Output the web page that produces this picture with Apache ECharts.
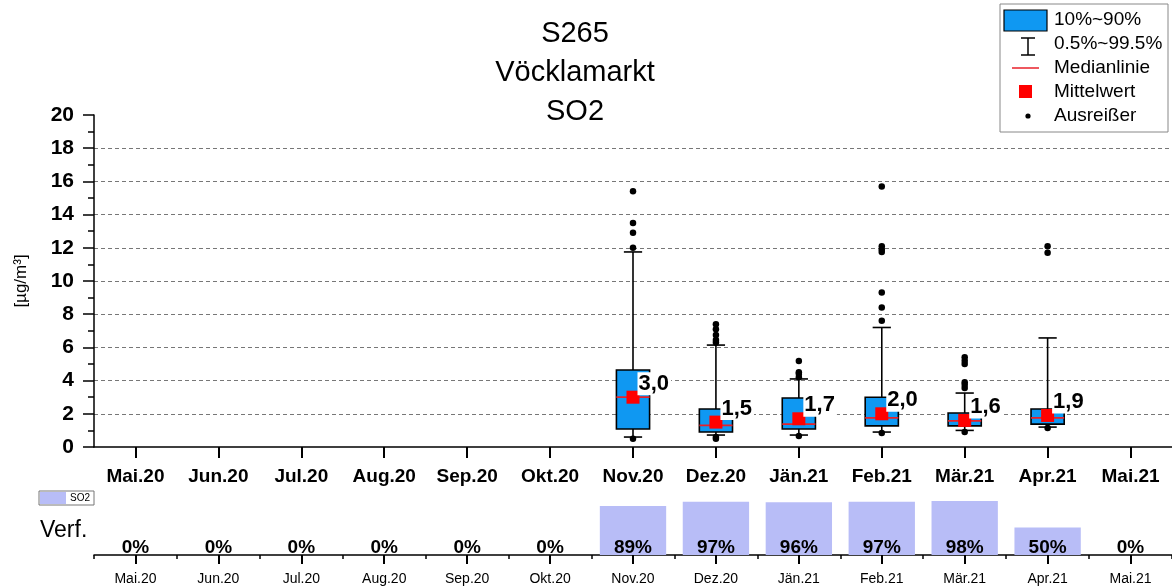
<!DOCTYPE html>
<html>
<head>
<meta charset="utf-8">
<script src="https://cdn.jsdelivr.net/npm/echarts@6/dist/echarts.min.js"></script>
<style>
html,body{margin:0;padding:0;background:#fff;}
#chart{width:1172px;height:588px;}
</style>
</head>
<body>
<div id="chart"></div>
<script>
// ---- data ----
const months = ['Mai.20','Jun.20','Jul.20','Aug.20','Sep.20','Okt.20','Nov.20','Dez.20','Jän.21','Feb.21','Mär.21','Apr.21','Mai.21'];
const p005  = [null,null,null,null,null,null,0.60,0.72,0.72,0.90,1.00,1.20,null];
const p10   = [null,null,null,null,null,null,1.08,0.90,1.08,1.27,1.27,1.38,null];
const median= [null,null,null,null,null,null,3.00,1.30,1.38,1.75,1.57,1.75,null];
const p90   = [null,null,null,null,null,null,4.64,2.29,2.95,3.00,2.05,2.29,null];
const p995  = [null,null,null,null,null,null,11.75,6.14,4.10,7.20,3.25,6.57,null];
const mean  = [null,null,null,null,null,null,3.0,1.5,1.7,2.0,1.6,1.9,null];
const outlierMonth = [6,6,6,6,6, 7,7,7,7,7,7,7, 8,8,8,8,8, 9,9,9,9,9,9,9,9, 10,10,10,10,10,10,10, 11,11,11];
const outlierValue = [15.4,13.5,12.9,12.0,0.5, 7.4,7.1,6.75,6.45,6.3,0.6,0.5, 5.18,4.5,4.4,4.2,0.66, 15.7,12.1,11.9,11.75,9.3,8.4,7.6,0.85, 5.4,5.2,5.0,3.9,3.75,3.55,0.9, 12.1,11.7,1.15];
const availability = [0,0,0,0,0,0,89,97,96,97,98,50,0];
const yTicks = [0,2,4,6,8,10,12,14,16,18,20];

// ---- build ----
const FONT = 'Arial, "Liberation Sans", sans-serif';
const boxData = [];
months.forEach((m,i)=>{ if(p10[i]!=null) boxData.push([i,p005[i],p10[i],median[i],p90[i],p995[i]]); });
const meanData = [];
months.forEach((m,i)=>{ if(mean[i]!=null) meanData.push([i,mean[i]]); });
const outlierData = outlierMonth.map((m,k)=>[m,outlierValue[k]]);

const chart = echarts.init(document.getElementById('chart'), null, {renderer:'canvas'});

function renderBox(params, api){
  const x = api.value(0);
  const lo = api.coord([x, api.value(1)]);
  const q1 = api.coord([x, api.value(2)]);
  const md = api.coord([x, api.value(3)]);
  const q3 = api.coord([x, api.value(4)]);
  const hi = api.coord([x, api.value(5)]);
  const band = api.size([1,0])[0];
  const bw = band*0.4, cw = band*0.22;
  const cx = q1[0];
  const ls = {stroke:'#000', lineWidth:1.6};
  return {type:'group', children:[
    {type:'line', shape:{x1:cx,y1:hi[1],x2:cx,y2:q3[1]}, style:ls},
    {type:'line', shape:{x1:cx,y1:q1[1],x2:cx,y2:lo[1]}, style:ls},
    {type:'line', shape:{x1:cx-cw/2,y1:hi[1],x2:cx+cw/2,y2:hi[1]}, style:ls},
    {type:'line', shape:{x1:cx-cw/2,y1:lo[1],x2:cx+cw/2,y2:lo[1]}, style:ls},
    {type:'rect', shape:{x:cx-bw/2,y:q3[1],width:bw,height:q1[1]-q3[1]}, style:{fill:'#0f98f2',stroke:'#000',lineWidth:1.6}},
    {type:'line', shape:{x1:cx-bw/2,y1:md[1],x2:cx+bw/2,y2:md[1]}, style:{stroke:'#e8202a',lineWidth:1.8}}
  ]};
}

const legendItems = [
  {type:'rect', shape:{x:1000,y:4,width:168,height:128}, style:{fill:'#fff', stroke:'#888', lineWidth:1}},
  {type:'rect', shape:{x:1004,y:10,width:43,height:21}, style:{fill:'#0f98f2', stroke:'#000', lineWidth:1.2}},
  {type:'text', x:1054, y:20, style:{text:'10%~90%', fontSize:19, fontFamily:FONT, fill:'#000', verticalAlign:'middle'}},
  {type:'line', shape:{x1:1028,y1:38,x2:1028,y2:55}, style:{stroke:'#000',lineWidth:1.5}},
  {type:'line', shape:{x1:1021,y1:38,x2:1035,y2:38}, style:{stroke:'#000',lineWidth:1.5}},
  {type:'line', shape:{x1:1021,y1:55,x2:1035,y2:55}, style:{stroke:'#000',lineWidth:1.5}},
  {type:'text', x:1054, y:44, style:{text:'0.5%~99.5%', fontSize:19, fontFamily:FONT, fill:'#000', verticalAlign:'middle'}},
  {type:'line', shape:{x1:1012,y1:68,x2:1039,y2:68}, style:{stroke:'#e8202a',lineWidth:1.5}},
  {type:'text', x:1054, y:68, style:{text:'Medianlinie', fontSize:19, fontFamily:FONT, fill:'#000', verticalAlign:'middle'}},
  {type:'rect', shape:{x:1019,y:85,width:13,height:13}, style:{fill:'#ff0000'}},
  {type:'text', x:1054, y:92, style:{text:'Mittelwert', fontSize:19, fontFamily:FONT, fill:'#000', verticalAlign:'middle'}},
  {type:'circle', shape:{cx:1028,cy:116,r:2.6}, style:{fill:'#000'}},
  {type:'text', x:1054, y:116, style:{text:'Ausreißer', fontSize:19, fontFamily:FONT, fill:'#000', verticalAlign:'middle'}},
  // bottom small legend + label
  {type:'rect', shape:{x:39,y:491,width:55,height:14}, style:{fill:'#fff', stroke:'#777', lineWidth:1}},
  {type:'rect', shape:{x:40,y:492,width:26,height:12}, style:{fill:'#b8bdf7'}},
  {type:'text', x:70, y:498.5, style:{text:'SO2', fontSize:10, fontFamily:FONT, fill:'#000', verticalAlign:'middle'}},
  {type:'text', x:40, y:531, style:{text:'Verf.', fontSize:23, fontFamily:FONT, fill:'#000', verticalAlign:'middle'}}
];

const option = {
  animation:false,
  backgroundColor:'#fff',
  textStyle:{fontFamily:FONT},
  title:{
    text:'S265\nVöcklamarkt\nSO2',
    left:570, top:9, textAlign:'center',
    textStyle:{fontSize:29, fontWeight:'normal', color:'#000', lineHeight:39, fontFamily:FONT}
  },
  grid:[
    {left:94, right:0, top:115, height:332},
    {left:94, right:0, top:500, height:55}
  ],
  xAxis:[
    {gridIndex:0, type:'category', data:months,
     axisLine:{show:true, lineStyle:{color:'#000',width:1.5}},
     axisTick:{show:true, alignWithLabel:true, interval:0, length:11, lineStyle:{color:'#000',width:2}},
     axisLabel:{color:'#000', fontWeight:'bold', fontSize:19, margin:20, interval:0, fontFamily:FONT},
     splitLine:{show:false}},
    {gridIndex:1, type:'category', data:months, position:'bottom',
     axisLine:{show:true, lineStyle:{color:'#000',width:1.5}},
     axisTick:{show:true, alignWithLabel:true, interval:0, length:9, lineStyle:{color:'#000',width:2}},
     axisLabel:{color:'#000', fontSize:14, margin:17, interval:0, fontFamily:FONT},
     splitLine:{show:false}},
    {gridIndex:1, type:'category', data:months, position:'bottom', offset:0,
     axisLine:{show:false},
     axisTick:{show:true, alignWithLabel:false, interval:0, length:4, lineStyle:{color:'#000',width:1.5}},
     axisLabel:{show:false}, splitLine:{show:false}}
  ],
  yAxis:[
    {gridIndex:0, type:'value', min:yTicks[0], max:yTicks[yTicks.length-1], interval:2,
     name:'[µg/m³]', nameLocation:'middle', nameGap:64, nameRotate:90,
     nameTextStyle:{fontSize:17, color:'#000', fontFamily:FONT},
     axisLine:{show:true, lineStyle:{color:'#000',width:1.5}},
     axisTick:{show:true, length:11, lineStyle:{color:'#000',width:1.5}},
     minorTick:{show:true, splitNumber:2, length:6, lineStyle:{color:'#000',width:1.5}},
     axisLabel:{color:'#000', fontWeight:'bold', fontSize:21, margin:20, fontFamily:FONT},
     splitLine:{show:true, showMinLine:false, showMaxLine:false, lineStyle:{color:'#777', type:[4,3], width:1}}},
    {gridIndex:1, type:'value', min:0, max:100, show:false, splitLine:{show:false}}
  ],
  graphic:{elements:legendItems},
  series:[
    {type:'custom', name:'10%~90%', xAxisIndex:0, yAxisIndex:0, data:boxData,
     encode:{x:0, y:[1,2,3,4,5]}, renderItem:renderBox, z:2},
    {type:'scatter', name:'Ausreißer', xAxisIndex:0, yAxisIndex:0, data:outlierData,
     symbol:'circle', symbolSize:6.5, itemStyle:{color:'#000', opacity:1}, z:3},
    {type:'scatter', name:'Mittelwert', xAxisIndex:0, yAxisIndex:0, data:meanData,
     symbol:'rect', symbolSize:13, itemStyle:{color:'#ff0000', opacity:1}, z:5,
     label:{show:true, position:[11,-7], align:'left', verticalAlign:'middle',
       formatter:p=>p.value[1].toFixed(1).replace('.',','),
       fontSize:22, fontWeight:'bold', color:'#000', fontFamily:FONT,
       backgroundColor:'#fff', padding:[1,2,0,1]}},
    {type:'bar', name:'SO2', xAxisIndex:1, yAxisIndex:1, data:availability,
     barWidth:'80%', itemStyle:{color:'#b8bdf7'}, z:2,
     label:{show:true, position:'insideBottom', distance:-2, formatter:p=>p.value+'%',
       fontSize:19, fontWeight:'bold', color:'#000', fontFamily:FONT}}
  ]
};
chart.setOption(option);
</script>
</body>
</html>
